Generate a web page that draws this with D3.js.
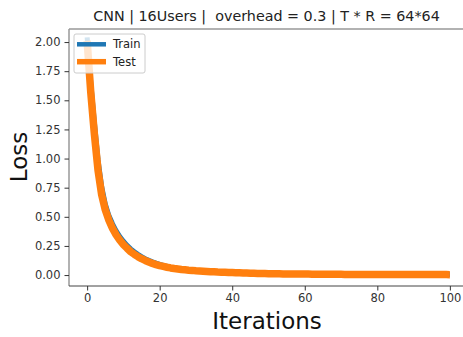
<!DOCTYPE html>
<html><head><meta charset="utf-8">
<script src="https://cdn.jsdelivr.net/npm/d3@7"></script>
<style>body{margin:0;background:#fff}svg{display:block}text{font-family:"DejaVu Sans",sans-serif}</style>
</head><body><svg id="c" width="463" height="337"></svg>
<script>
const iterations = d3.range(0, 101);
const trainLoss = [2.04,1.65,1.31,0.99,0.76,0.61,0.51,0.44,0.38,0.33,
0.29,0.255,0.225,0.20,0.178,0.158,0.14,0.126,0.113,0.102,
0.092,0.083,0.075,0.068,0.062,0.057,0.053,0.049,0.046,0.043,
0.040,0.038,0.036,0.034,0.032,0.030,0.028,0.027,0.025,0.024,
0.023,0.022,0.021,0.020,0.019,0.018,0.017,0.016,0.015,0.014,
0.014,0.013,0.013,0.012,0.012,0.011,0.011,0.010,0.010,0.0095,
0.009,0.0087,0.0084,0.0081,0.0078,0.0075,0.0072,0.007,0.0068,0.0066,
0.0064,0.0062,0.006,0.0059,0.0058,0.0057,0.0056,0.0055,0.0054,0.0053,
0.0052,0.0051,0.005,0.0049,0.0048,0.0047,0.0046,0.0046,0.0045,0.0045,
0.0044,0.0044,0.0043,0.0043,0.0042,0.0042,0.0041,0.0041,0.004,0.004,0.004];
const testLoss = [2.01,1.57,1.21,0.90,0.69,0.56,0.47,0.40,0.345,0.30,
0.262,0.23,0.20,0.178,0.158,0.14,0.125,0.112,0.10,0.09,
0.081,0.074,0.067,0.061,0.056,0.052,0.048,0.045,0.042,0.040,
0.037,0.035,0.033,0.031,0.029,0.028,0.026,0.025,0.024,0.022,
0.021,0.020,0.019,0.018,0.017,0.016,0.015,0.014,0.014,0.013,
0.012,0.012,0.011,0.011,0.010,0.010,0.0095,0.009,0.009,0.0085,
0.008,0.008,0.0075,0.0073,0.007,0.0068,0.0066,0.0064,0.0062,0.006,
0.0058,0.0057,0.0056,0.0055,0.0054,0.0053,0.0052,0.0051,0.005,0.0049,
0.0048,0.0047,0.0046,0.0045,0.0044,0.0044,0.0043,0.0043,0.0042,0.0042,
0.0041,0.0041,0.004,0.004,0.0039,0.0039,0.0038,0.0038,0.0037,0.0037,0.0036];
const xTicks = [0, 20, 40, 60, 80, 100];
const yTicks = [0, 0.25, 0.5, 0.75, 1.0, 1.25, 1.5, 1.75, 2.0];
const seriesNames = ["Train", "Test"];
const seriesColors = ["#1f77b4", "#ff7f0e"];
const titleText = "CNN | 16Users |  overhead = 0.3 | T * R = 64*64";

const svg = d3.select("#c");
const L = 69, R = 468, T = 29, B = 286;
const x = d3.scaleLinear().domain([-5, 105]).range([L, R]);
const y = d3.scaleLinear().domain([-0.094, 2.112]).range([B, T]);

// spines
svg.append("line").attr("x1", L).attr("x2", R).attr("y1", T).attr("y2", T).attr("stroke", "#999").attr("stroke-width", 1.5);
svg.append("line").attr("x1", L).attr("x2", L).attr("y1", T).attr("y2", B).attr("stroke", "#999").attr("stroke-width", 1.5);
svg.append("line").attr("x1", L).attr("x2", R).attr("y1", B).attr("y2", B).attr("stroke", "#444").attr("stroke-width", 1);

const xAxis = svg.append("g").attr("transform", `translate(0,${B})`)
  .call(d3.axisBottom(x).tickValues(xTicks).tickSize(4.5).tickPadding(3.5).tickFormat(d3.format("d")));
const yAxis = svg.append("g").attr("transform", `translate(${L},0)`)
  .call(d3.axisLeft(y).tickValues(yTicks).tickSize(4.5).tickPadding(4).tickFormat(d3.format(".2f")));
[xAxis, yAxis].forEach(g => {
  g.select(".domain").remove();
  g.selectAll(".tick line").attr("stroke", "#333");
  g.selectAll(".tick text").attr("fill", "#333").style("font-size", "11.5px").style("font-family", "DejaVu Sans");
});

const line = d3.line().x((d, i) => x(iterations[i])).y(d => y(d));
const data = [trainLoss, testLoss];
const widths = [5, 7.5];
data.forEach((s, k) => {
  svg.append("path").datum(s).attr("d", line).attr("fill", "none")
    .attr("stroke", seriesColors[k]).attr("stroke-width", widths[k]).attr("stroke-linejoin", "round");
});

// legend
const lg = svg.append("g");
lg.append("rect").attr("x", 74).attr("y", 34).attr("width", 71).attr("height", 39).attr("rx", 2)
  .attr("fill", "#fff").attr("fill-opacity", 0.8).attr("stroke", "#ccc").attr("stroke-width", 1);
seriesNames.forEach((n, k) => {
  const yy = 44.3 + k * 17.4;
  lg.append("line").attr("x1", 77).attr("x2", 106).attr("y1", yy).attr("y2", yy)
    .attr("stroke", seriesColors[k]).attr("stroke-width", k ? 5.5 : 4.5);
  lg.append("text").attr("x", 113).attr("y", yy + 4).text(n).style("font-size", "11.5px").attr("fill", "#222");
});

svg.append("text").attr("x", 266.5).attr("y", 21).attr("text-anchor", "middle").style("font-size", "14.3px").style("white-space", "pre").attr("fill", "#222").text(titleText);
svg.append("text").attr("x", 267).attr("y", 329).attr("text-anchor", "middle").style("font-size", "23px").attr("fill", "#111").text("Iterations");
svg.append("text").attr("transform", "translate(27,157) rotate(-90)").attr("text-anchor", "middle").style("font-size", "23px").attr("fill", "#111").text("Loss");
</script></body></html>
